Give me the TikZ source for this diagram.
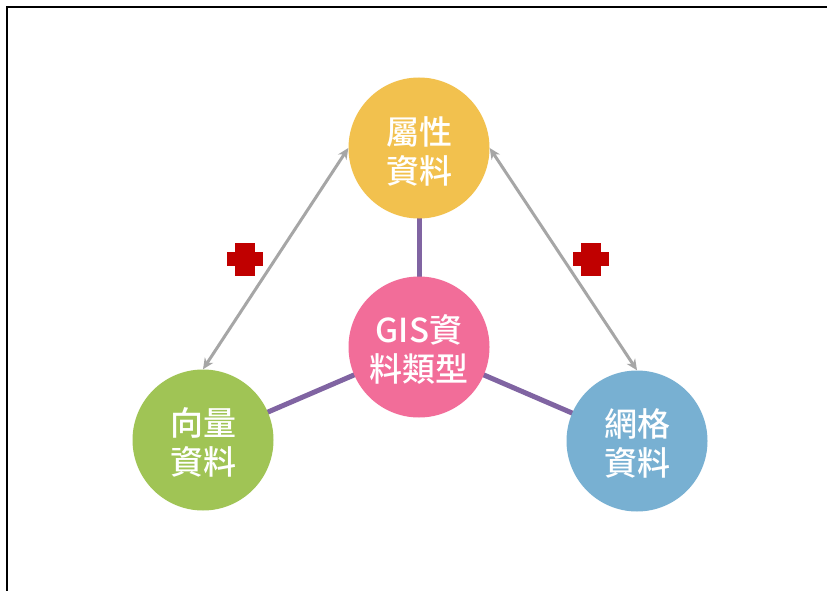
\documentclass[tikz,border=0pt]{standalone}
\usepackage{fontspec}
\newfontfamily\cjk{Noto Sans CJK TC Medium}
\usetikzlibrary{arrows.meta}
\definecolor{cyellow}{RGB}{242,193,78}
\definecolor{cpink}{RGB}{242,109,153}
\definecolor{cgreen}{RGB}{160,196,85}
\definecolor{cblue}{RGB}{120,176,210}
\definecolor{cpurple}{RGB}{128,100,162}
\definecolor{cgray}{RGB}{166,166,166}
\definecolor{cred}{RGB}{192,0,0}
\tikzset{
  bubble/.style={circle, minimum size=141pt, inner sep=0pt},
  caption/.style={text=white, font=\cjk\fontsize{33}{39}\selectfont, align=center, inner sep=0pt},
  link/.style={draw=cpurple, line width=5pt},
  rel/.style={draw=cgray, line width=3pt, {Stealth[length=11pt,width=10pt]}-{Stealth[length=11pt,width=10pt]}},
  plusarm/.style={fill=cred}
}
\begin{document}
\begin{tikzpicture}[x=1pt,y=-1pt]
\useasboundingbox (0,0) rectangle (827,591);
\fill[white] (0,0) rectangle (827,591);
\draw[line width=2pt] (7,591) -- (7,7) -- (827,7);
\coordinate (cA) at (419,148);
\coordinate (cG) at (419,347);
\coordinate (cV) at (203,440);
\coordinate (cR) at (637,441);
\draw[link] (cG) -- (cA);
\draw[link] (cG) -- (cV);
\draw[link] (cG) -- (cR);
\node[bubble, fill=cyellow] (attr) at (cA) {};
\node[bubble, fill=cpink] (gis) at (cG) {};
\node[bubble, fill=cgreen] (vec) at (cV) {};
\node[bubble, fill=cblue] (grid) at (cR) {};
\node[caption] (tattr) at ([yshift=-3pt]attr.center) {屬性\\資料};
\node[caption] (tgis) at ([yshift=-2pt]gis.center) {GIS資\\料類型};
\node[caption] (tvec) at ([yshift=-2pt]vec.center) {向量\\資料};
\node[caption] (tgrid) at ([yshift=-2pt]grid.center) {網格\\資料};
\draw[rel] (attr.west) -- (vec.north);
\draw[rel] (attr.east) -- (grid.north);
\coordinate (p1) at (245,259);
\coordinate (p2) at (591,259);
\foreach \p in {p1,p2}{
  \fill[plusarm] ([xshift=-10pt,yshift=-17pt]\p) rectangle ([xshift=10pt,yshift=16pt]\p);
  \fill[plusarm] ([xshift=-18pt,yshift=-7pt]\p) rectangle ([xshift=18pt,yshift=7pt]\p);
}
\end{tikzpicture}
\end{document}
